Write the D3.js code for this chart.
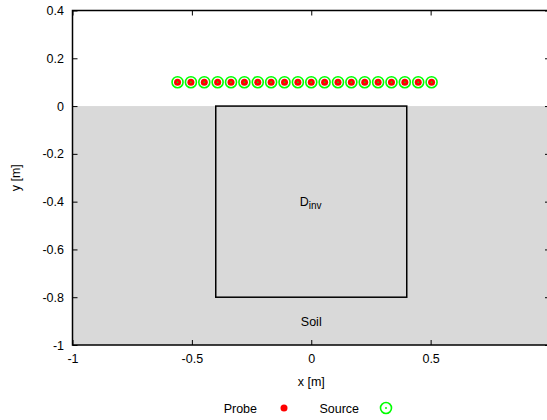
<!DOCTYPE html>
<html>
<head>
<meta charset="utf-8">
<script src="https://cdn.jsdelivr.net/npm/d3@7"></script>
<style>
  body { margin: 0; background: white; }
  svg text { font-family: "Liberation Sans", Arial, sans-serif; }
</style>
</head>
<body>
<svg id="graph"></svg>
<script>
// probe / source positions (same points)
var probeX = [-0.56, -0.504, -0.448, -0.392, -0.336, -0.28, -0.224, -0.168, -0.112, -0.056,
              0, 0.056, 0.112, 0.168, 0.224, 0.28, 0.336, 0.392, 0.448, 0.504];
var probeY = [0.1, 0.1, 0.1, 0.1, 0.1, 0.1, 0.1, 0.1, 0.1, 0.1,
              0.1, 0.1, 0.1, 0.1, 0.1, 0.1, 0.1, 0.1, 0.1, 0.1];
var sourceX = probeX;
var sourceY = probeY;

var xTicks = [-1, -0.5, 0, 0.5];
var yTicks = [0.4, 0.2, 0, -0.2, -0.4, -0.6, -0.8, -1];

var soilBox = {x0: -1, x1: 1, y0: -1, y1: 0};
var invBox = {x0: -0.4, x1: 0.4, y0: -0.8, y1: 0};

var fontSize = 12.5;

var drawChart = function(svgSelector)
{
  var screen = {width: 547, height: 420};
  var margins = {top: 10.5, bottom: 75, left: 72.5, right: -3};

  var svg = d3.select(svgSelector)
              .attr("width", screen.width)
              .attr("height", screen.height);

  var xScale = d3.scaleLinear()
                 .domain([-1, 1])
                 .range([margins.left, screen.width - margins.right]);
  var yScale = d3.scaleLinear()
                 .domain([-1, 0.4])
                 .range([screen.height - margins.bottom, margins.top]);

  var plain = function(d){ return String(d); }; // hyphen minus, like gnuplot

  // soil area
  svg.append("rect")
     .attr("x", xScale(soilBox.x0))
     .attr("y", yScale(soilBox.y1))
     .attr("width", xScale(soilBox.x1) - xScale(soilBox.x0))
     .attr("height", yScale(soilBox.y0) - yScale(soilBox.y1))
     .attr("fill", "#d9d9d9");

  // inversion domain
  svg.append("rect")
     .attr("x", xScale(invBox.x0))
     .attr("y", yScale(invBox.y1))
     .attr("width", xScale(invBox.x1) - xScale(invBox.x0))
     .attr("height", yScale(invBox.y0) - yScale(invBox.y1))
     .attr("fill", "none")
     .style("stroke", "black")
     .style("stroke-width", 1.5);

  // axes, ticks go inward
  var bottom = yScale(-1), top = yScale(0.4);
  var left = xScale(-1), right = xScale(1);

  svg.append("g")
     .attr("transform", "translate(0," + bottom + ")")
     .call(d3.axisBottom(xScale).tickValues(xTicks).tickSize(-5).tickSizeOuter(0).tickPadding(9.5)
             .tickFormat(plain));
  svg.append("g")
     .attr("transform", "translate(0," + top + ")")
     .call(d3.axisTop(xScale).tickValues(xTicks).tickSize(-5).tickSizeOuter(0).tickFormat(""));
  svg.append("g")
     .attr("transform", "translate(" + left + ",0)")
     .call(d3.axisLeft(yScale).tickValues(yTicks).tickSize(-5).tickSizeOuter(0).tickPadding(8.5)
             .tickFormat(plain));
  svg.append("g")
     .attr("transform", "translate(" + right + ",0)")
     .call(d3.axisRight(yScale).tickValues(yTicks).tickSize(-5).tickSizeOuter(0).tickFormat(""));

  svg.selectAll(".domain").remove();
  svg.selectAll(".tick text").attr("font-size", fontSize).attr("fill", "black")
     .style("font-family", "Liberation Sans, Arial, sans-serif");
  svg.selectAll(".tick line").style("stroke", "black");

  // frame
  svg.append("rect")
     .attr("x", left)
     .attr("y", top)
     .attr("width", right - left)
     .attr("height", bottom - top)
     .attr("fill", "none")
     .style("stroke", "black")
     .style("stroke-width", 1.5);

  // labels
  svg.append("text")
     .text("Soil")
     .attr("x", xScale(0))
     .attr("y", yScale(-0.9) + 4.5)
     .attr("text-anchor", "middle")
     .attr("font-size", fontSize);

  var dinv = svg.append("text")
     .attr("x", xScale(0) - 11.5)
     .attr("y", yScale(-0.4) + 4)
     .attr("font-size", fontSize);
  dinv.append("tspan").text("D");
  dinv.append("tspan").text("inv").attr("font-size", 10).attr("dy", 3);

  svg.append("text")
     .text("x [m]")
     .attr("x", xScale(0))
     .attr("y", 386)
     .attr("text-anchor", "middle")
     .attr("font-size", fontSize);

  svg.append("text")
     .text("y [m]")
     .attr("transform", "translate(19.5," + yScale(-0.3) + ") rotate(-90)")
     .attr("text-anchor", "middle")
     .attr("font-size", fontSize);

  // probes
  var probes = probeX.map(function(x, i){ return {x: x, y: probeY[i]}; });
  var sources = sourceX.map(function(x, i){ return {x: x, y: sourceY[i]}; });

  svg.append("g").selectAll("circle")
     .data(probes).enter().append("circle")
     .attr("cx", function(d){ return xScale(d.x); })
     .attr("cy", function(d){ return yScale(d.y); })
     .attr("r", 3.5)
     .attr("fill", "red");

  var src = svg.append("g").selectAll("g")
     .data(sources).enter().append("g");
  src.append("circle")
     .attr("cx", function(d){ return xScale(d.x); })
     .attr("cy", function(d){ return yScale(d.y); })
     .attr("r", 5.5)
     .attr("fill", "none")
     .style("stroke", "#00ff00")
     .style("stroke-width", 1.6);
  src.append("circle")
     .attr("cx", function(d){ return xScale(d.x); })
     .attr("cy", function(d){ return yScale(d.y); })
     .attr("r", 0.8)
     .attr("fill", "#00ff00");

  // legend
  var legend = svg.append("g").attr("font-size", fontSize);
  legend.append("text").text("Probe").attr("x", 257).attr("y", 412.5).attr("text-anchor", "end");
  legend.append("circle").attr("cx", 284).attr("cy", 408).attr("r", 3.5).attr("fill", "red");
  legend.append("text").text("Source").attr("x", 359).attr("y", 412.5).attr("text-anchor", "end");
  legend.append("circle").attr("cx", 386).attr("cy", 408).attr("r", 5.5)
        .attr("fill", "none").style("stroke", "#00ff00").style("stroke-width", 1.6);
  legend.append("circle").attr("cx", 386).attr("cy", 408).attr("r", 1).attr("fill", "#00ff00");
}

drawChart("#graph");
</script>
</body>
</html>
